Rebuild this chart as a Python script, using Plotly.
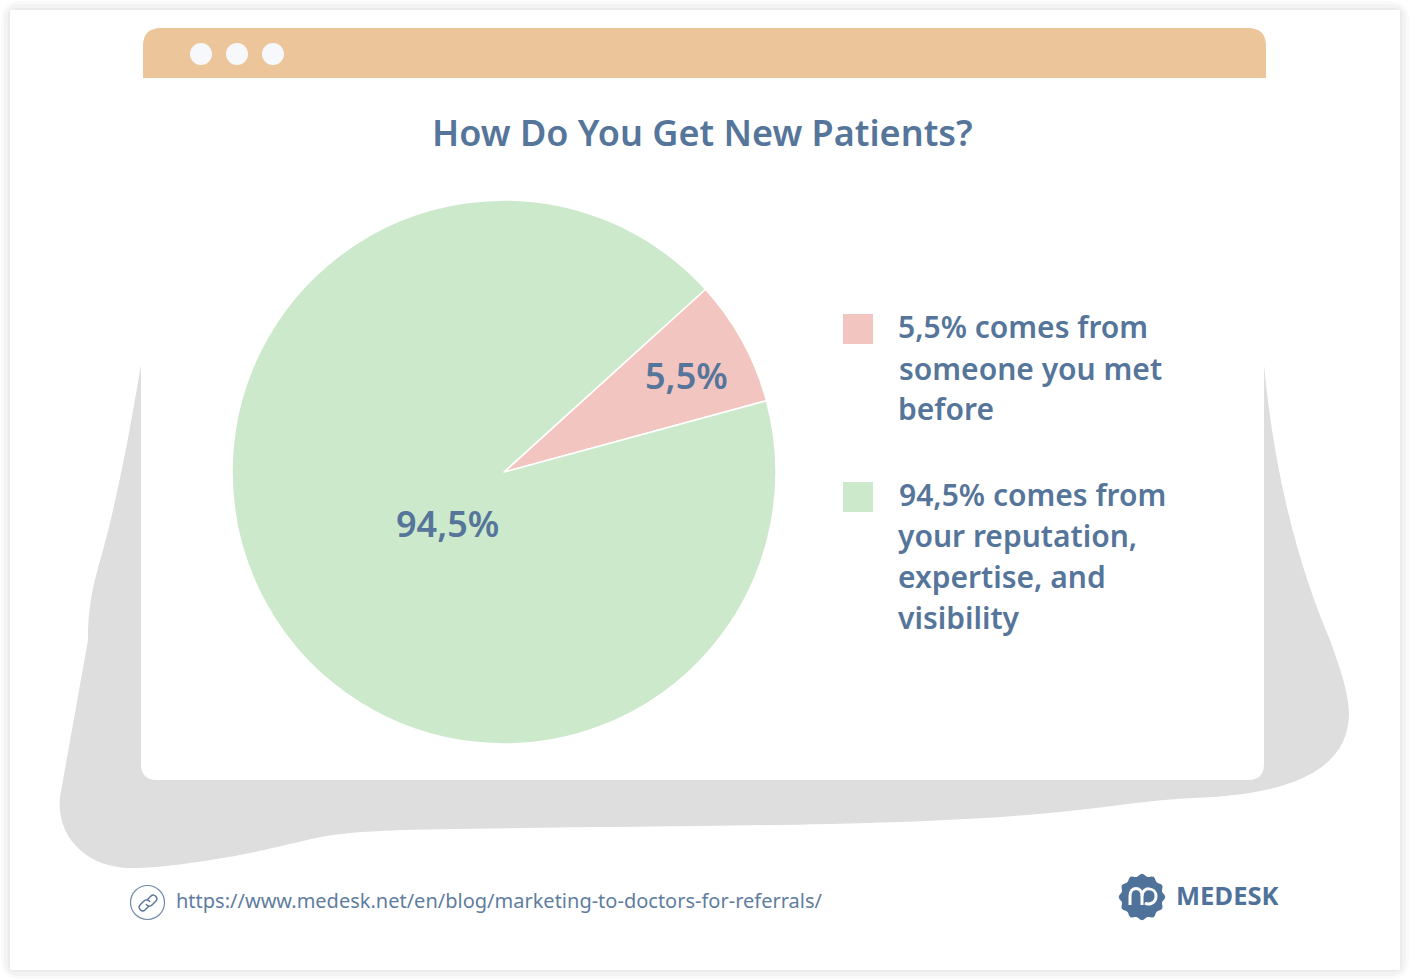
import math
import plotly.graph_objects as go

W, H = 1410, 980
BLUE = "#56759a"

title = "How Do You Get New Patients?"
# slice sizes as drawn (the pink wedge is wider than its label says)
slice_names = ["someone you met before", "reputation, expertise, and visibility"]
slice_sizes = [7.5, 92.5]
slice_labels = ["5,5%", "94,5%"]
slice_colors = ["#f3c5c1", "#cde9cc"]
legend_lines = [
    ["5,5% comes from", "someone you met", "before"],
    ["94,5% comes from", "your reputation,", "expertise, and", "visibility"],
]
source_url = "https://www.medesk.net/en/blog/marketing-to-doctors-for-referrals/"
brand = "MEDESK"


def px(x):
    return x / W


def py(y):
    return 1 - y / H


def path(*parts):
    # parts are svg commands with pixel coords: ("M", x, y), ("C", x1, y1, x2, y2, x, y)...
    out = []
    for p in parts:
        cmd, nums = p[0], p[1:]
        coords = []
        for i in range(0, len(nums), 2):
            coords.append(f"{px(nums[i]):.5f},{py(nums[i + 1]):.5f}")
        out.append(cmd + " ".join(coords))
    return " ".join(out)


def rounded_top(x0, y0, x1, y1, r):
    return path(("M", x0, y1), ("L", x0, y0 + r), ("Q", x0, y0, x0 + r, y0), ("L", x1 - r, y0),
                ("Q", x1, y0, x1, y0 + r), ("L", x1, y1)) + " Z"


def rounded_rect(x0, y0, x1, y1, r):
    return path(("M", x0 + r, y0), ("L", x1 - r, y0), ("Q", x1, y0, x1, y0 + r), ("L", x1, y1 - r),
                ("Q", x1, y1, x1 - r, y1), ("L", x0 + r, y1), ("Q", x0, y1, x0, y1 - r),
                ("L", x0, y0 + r), ("Q", x0, y0, x0 + r, y0)) + " Z"


fig = go.Figure(go.Pie(
    labels=slice_names,
    values=slice_sizes,
    sort=False,
    direction="clockwise",
    rotation=47.8,
    textinfo="none",
    hoverinfo="label",
    marker=dict(colors=slice_colors, line=dict(color="white", width=1.5)),
    domain=dict(x=[px(232), px(776)], y=[py(744), py(200)]),
    showlegend=False,
))

shapes = []


def add_path(d, fill=None, line=None, width=0):
    shapes.append(dict(type="path", xref="paper", yref="paper", path=d, layer="below",
                       fillcolor=fill if fill else "rgba(0,0,0,0)",
                       line=dict(color=line if line else "rgba(0,0,0,0)", width=width)))


def add_circle(cx, cy, r, fill=None, line=None, width=0):
    shapes.append(dict(type="circle", xref="paper", yref="paper", layer="below",
                       x0=px(cx - r), x1=px(cx + r), y0=py(cy + r), y1=py(cy - r),
                       fillcolor=fill if fill else "rgba(0,0,0,0)",
                       line=dict(color=line if line else "rgba(0,0,0,0)", width=width)))


# page frame with soft edge
add_path(rounded_rect(1, 1, 1409, 979, 20), fill="#fafafa")
add_path(rounded_rect(4, 4, 1406, 976, 16), fill="#f3f3f3")
add_path(rounded_rect(8, 8, 1402, 972, 8), fill="#ebebeb")
add_path(rounded_rect(10, 10, 1400, 970, 1), fill="white")

# grey blob behind the card
add_path(path(("M", 141, 365),
              ("C", 130, 430, 118, 495, 103, 550),
              ("C", 96, 575, 88, 600, 88, 640),
              ("L", 60, 797),
              ("C", 56, 840, 90, 868, 130, 868),
              ("C", 165, 868, 215, 860, 250, 853),
              ("C", 285, 846, 310, 838, 333, 835),
              ("C", 355, 832, 380, 831, 400, 830),
              ("C", 650, 825, 900, 828, 1060, 812),
              ("C", 1110, 807, 1150, 800, 1193, 798),
              ("C", 1280, 795, 1349, 775, 1349, 713),
              ("C", 1349, 690, 1335, 655, 1330, 640),
              ("C", 1300, 570, 1275, 480, 1264, 365)) + " Z", fill="#dedede")

# card and browser bar
add_path(rounded_rect(141, 60, 1264, 780, 16), fill="white")
add_path(rounded_top(143, 28, 1266, 78, 18), fill="#ecc69a")
for cx in (201, 237, 273):
    add_circle(cx, 54, 11, fill="#f6f8fb")

# legend squares
for top in (314, 482):
    shapes.append(dict(type="rect", xref="paper", yref="paper", layer="below",
                       x0=px(843), x1=px(873), y0=py(top + 30), y1=py(top),
                       fillcolor=slice_colors[0] if top == 314 else slice_colors[1],
                       line=dict(width=0)))

# link icon
add_circle(147.5, 902.5, 17, line="#6f8aa8", width=1.2)
add_path(path(("M", 147, 900), ("L", 151, 896), ("C", 154, 893, 159, 898, 156, 901), ("L", 152, 905),
              ("C", 150, 907, 147, 906, 146, 904)), line="#56759a", width=1.4)
add_path(path(("M", 149, 906), ("L", 145, 910), ("C", 142, 913, 137, 908, 140, 905), ("L", 144, 901),
              ("C", 146, 899, 149, 900, 150, 902)), line="#56759a", width=1.4)

# logo badge
badge = []
for k in range(72):
    a = 2 * math.pi * k / 72
    r = 22 + 1.3 * math.cos(12 * a)
    badge.append((1142 + r * math.cos(a), 897 + r * math.sin(a)))
add_path(path(("M", *badge[0]), *[("L", x, y) for x, y in badge[1:]]) + " Z", fill="#4f729b")
add_path(path(("M", 1130, 905), ("L", 1130, 896), ("C", 1130, 886, 1142, 886, 1142, 896), ("L", 1142, 905)),
         line="white", width=3)
add_path(path(("M", 1142, 896), ("C", 1142, 886, 1156, 887, 1156, 896), ("C", 1156, 904, 1148, 905, 1145, 903)),
         line="white", width=3)

annotations = []


def add_text(x, y, text, size, weight=400, color=BLUE, anchor="left", family="Noto Sans"):
    annotations.append(dict(x=px(x), y=py(y), xref="paper", yref="paper", text=text, showarrow=False,
                            xanchor=anchor, yanchor="middle", borderpad=0,
                            font=dict(family=family, size=size, color=color, weight=weight)))


add_text(702, 133, title, 36, weight=600, anchor="center")
add_text(686, 376, slice_labels[0], 36, weight=600, anchor="center")
add_text(447, 523, slice_labels[1], 36, weight=600, anchor="center")

legend_y = [[326, 368, 408], [494, 535, 576, 617]]
for lines, ys in zip(legend_lines, legend_y):
    for line, y in zip(lines, ys):
        add_text(897.5, y, line, 30, weight=600)

add_text(174.5, 900, source_url, 20, color="#5f7d9f")
add_text(1175, 895, brand, 25.5, weight=700, color="#4f729b", family="Open Sans")

fig.update_layout(
    width=W,
    height=H,
    margin=dict(l=0, r=0, t=0, b=0),
    paper_bgcolor="white",
    plot_bgcolor="white",
    shapes=shapes,
    annotations=annotations,
)

fig.write_html("out.html", config=dict(displayModeBar=False), post_script="document.body.style.margin='0';")
